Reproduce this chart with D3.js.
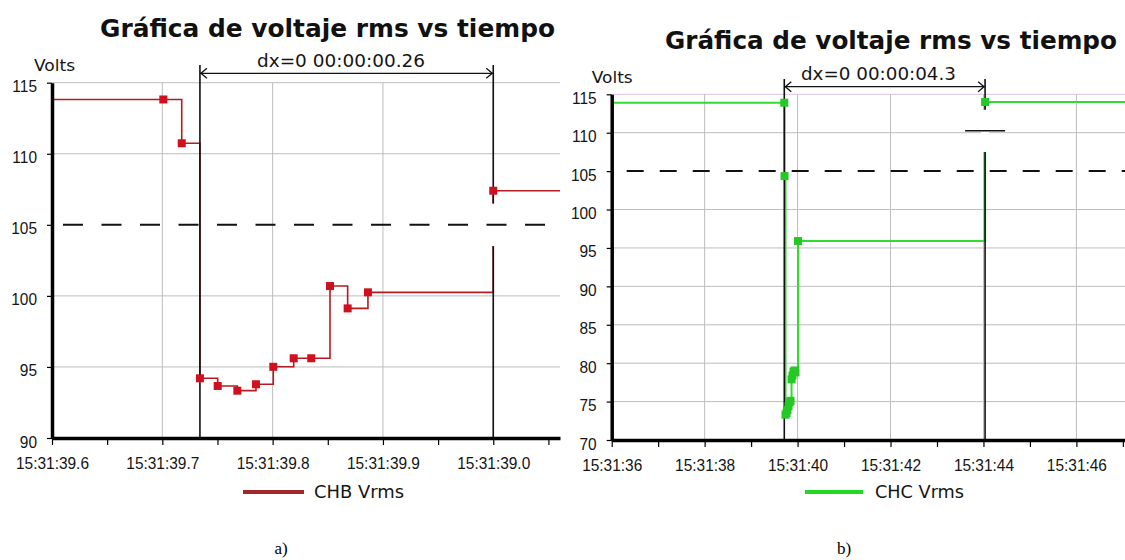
<!DOCTYPE html>
<html><head><meta charset="utf-8">
<script src="https://cdn.jsdelivr.net/npm/d3@7"></script>
<style>
body{margin:0;background:#fff;}
svg{display:block;}
.tk text{font-family:"Liberation Sans Narrow","Arial Narrow","Liberation Sans",sans-serif;font-size:17px;fill:#151515;}
.lbl{font-family:"DejaVu Sans",sans-serif;fill:#151515;}
</style></head><body>
<svg id="c" width="1125" height="560"></svg>
<script>
// ---------- data ----------
const chartTitle = "Gráfica de voltaje rms vs tiempo";
const yAxisLabel = "Volts";

// a) CHB Vrms  (time = seconds after 15:31:39)
const chbTimes  = [0.580, 0.7009, 0.7176, 0.7341, 0.7502, 0.7680, 0.7849, 0.8006, 0.8191, 0.8350, 0.8520, 0.8680, 0.8864, 1.0000, 1.090];
const chbValues = [113.82, 113.82, 110.74, 94.20, 93.66, 93.33, 93.78, 95.01, 95.61, 95.61, 100.69, 99.12, 100.25, 107.40, 107.40];
const aXTicks      = [0.6, 0.65, 0.7, 0.75, 0.8, 0.85, 0.9, 0.95, 1.0, 1.05];
const aXLabelTicks = [0.6, 0.7, 0.8, 0.9, 1.0];
const aXTickLabels = ["15:31:39.6", "15:31:39.7", "15:31:39.8", "15:31:39.9", "15:31:39.0"];
const aYTicks   = [90, 95, 100, 105, 110, 115];
const aThreshold = 105;
const aCursors  = [0.7341, 1.0000];
const aCursorGap = [103.5, 106.5];
const aDxLabel  = "dx=0 00:00:00.26";
const aLegend   = "CHB Vrms";
const aCaption  = "a)";

// b) CHC Vrms  (time = seconds after 15:31:00)
const chcTimes  = [30, 39.714, 39.720, 39.740, 39.762, 39.783, 39.805, 39.826, 39.848, 39.870, 39.891, 39.912, 39.934, 39.955, 40.009, 44.035, 48];
const chcValues = [113.9, 113.9, 104.35, 73.3, 73.5, 73.9, 74.4, 74.9, 75.1, 77.9, 78.4, 78.9, 79.05, 78.8, 95.9, 114.0, 114.0];
const bXTicks      = [36, 37, 38, 39, 40, 41, 42, 43, 44, 45, 46, 47];
const bXLabelTicks = [36, 38, 40, 42, 44, 46];
const bXTickLabels = ["15:31:36", "15:31:38", "15:31:40", "15:31:42", "15:31:44", "15:31:46"];
const bYTicks   = [70, 75, 80, 85, 90, 95, 100, 105, 110, 115];
const bThreshold = 105;
const bCursors  = [39.714, 44.035];
const bCursorGap = [107.5, 113.0];
const bCursorMark = 110.26;
const bDxLabel  = "dx=0 00:00:04.3";
const bLegend   = "CHC Vrms";
const bCaption  = "b)";

// ---------- layout ----------
const panels = [
  {id:'a', times:chbTimes, values:chbValues, xTicks:aXTicks, xLabelTicks:aXLabelTicks, xTickLabels:aXTickLabels,
   yTicks:aYTicks, threshold:aThreshold, cursors:aCursors, gap:aCursorGap, mark:null, dx:aDxLabel, legend:aLegend, caption:aCaption,
   xDomain:[0.6, 1.0605], x0:52, x1:560, yDomain:[90,115], yTop:82.7, yBottom:438,
   lineColor:'#b41c22', markColor:'#d0101e', markSize:8, lineWidth:1.6, legendColor:'#a3262b',
   topGrid:'#bdbdbd', dash:'20,18.5', dashOff:27.5,
   titleX:327.5, titleW:455, titleY:37, voltsX:34, voltsY:71, dxX:341, dxY:67, dxW:168, arrowY:73.3, cursorTop:65,
   legX1:243, legX2:304, legY:492, legTextX:314, legTextW:90, capX:281},
  {id:'b', times:chcTimes, values:chcValues, xTicks:bXTicks, xLabelTicks:bXLabelTicks, xTickLabels:bXTickLabels,
   yTicks:bYTicks, threshold:bThreshold, cursors:bCursors, gap:bCursorGap, mark:bCursorMark, dx:bDxLabel, legend:bLegend, caption:bCaption,
   xDomain:[36, 47.046], x0:611.7, x1:1125, yDomain:[70,115], yTop:94.3, yBottom:440,
   lineColor:'#2fdc2f', markColor:'#25c825', markSize:8, lineWidth:2, legendColor:'#22d822',
   topGrid:'#d8c4e4', dash:'17,16', dashOff:18,
   titleX:891, titleW:452, titleY:49, voltsX:591.7, voltsY:83, dxX:878.5, dxY:80, dxW:155, arrowY:86.7, cursorTop:79,
   legX1:805, legX2:863, legY:492, legTextX:875, legTextW:89, capX:844}
];

const svg = d3.select('#c');

// condense tick-label font to the narrow look of the reference
let narrowFactor = 1;
(function(){
  const t = svg.append('g').attr('class', 'tk').append('text').text('15:31:39.6');
  const w = t.node().getComputedTextLength();
  if (w > 0) narrowFactor = Math.min(1, 73 / w);
  t.node().parentNode.remove();
})();
function condense(sel){
  sel.each(function(){
    const w = this.getComputedTextLength();
    if (w > 0 && narrowFactor < 0.99) d3.select(this).attr('textLength', w * narrowFactor).attr('lengthAdjust', 'spacingAndGlyphs');
  });
}

function drawPanel(p){
  const x = d3.scaleLinear().domain(p.xDomain).range([p.x0, p.x1]);
  const y = d3.scaleLinear().domain(p.yDomain).range([p.yBottom, p.yTop]);
  const g = svg.append('g');
  const clipId = 'clip-' + p.id;
  svg.append('clipPath').attr('id', clipId).append('rect')
    .attr('x', p.x0).attr('y', p.yTop - 6).attr('width', p.x1 - p.x0).attr('height', p.yBottom - p.yTop + 6);

  // horizontal gridlines
  g.selectAll('.hg').data(p.yTicks.filter(v => v !== p.yDomain[0] && v !== p.threshold)).join('line')
    .attr('x1', p.x0).attr('x2', p.x1).attr('y1', d => y(d)).attr('y2', d => y(d))
    .attr('stroke', d => d === p.yDomain[1] ? p.topGrid : '#bdbdbd').attr('stroke-width', 1);
  // vertical gridlines
  g.selectAll('.vg').data(p.xLabelTicks.filter(v => v !== p.xDomain[0])).join('line')
    .attr('x1', d => x(d)).attr('x2', d => x(d)).attr('y1', p.yTop).attr('y2', p.yBottom)
    .attr('stroke', '#bdbdbd').attr('stroke-width', 1);

  // series
  const pts = p.times.map((t, i) => [t, p.values[i]]);
  const line = d3.line().x(d => x(d[0])).y(d => y(d[1])).curve(d3.curveStepAfter);
  g.append('path').attr('d', line(pts)).attr('fill', 'none')
    .attr('stroke', p.lineColor).attr('stroke-width', p.lineWidth).attr('clip-path', `url(#${clipId})`);

  // cursors
  const c1 = x(p.cursors[0]), c2 = x(p.cursors[1]);
  g.append('line').attr('x1', c1).attr('x2', c1).attr('y1', p.cursorTop).attr('y2', p.yBottom)
    .attr('stroke', '#111').attr('stroke-width', 1.6);
  g.append('rect').attr('x', c2 - 4).attr('y', y(p.gap[1])).attr('width', 8).attr('height', y(p.gap[0]) - y(p.gap[1]))
    .attr('fill', '#fff');
  g.append('line').attr('x1', c2).attr('x2', c2).attr('y1', p.cursorTop).attr('y2', y(p.gap[1]))
    .attr('stroke', '#111').attr('stroke-width', 1.6);
  g.append('line').attr('x1', c2).attr('x2', c2).attr('y1', y(p.gap[0])).attr('y2', p.yBottom)
    .attr('stroke', '#111').attr('stroke-width', 1.6);
  if (p.mark !== null) {
    g.append('line').attr('x1', c2 - 20).attr('x2', c2 + 20).attr('y1', y(p.mark)).attr('y2', y(p.mark))
      .attr('stroke', '#111').attr('stroke-width', 1.6);
  }

  // markers
  g.append('g').attr('clip-path', `url(#${clipId})`).selectAll('rect').data(pts).join('rect')
    .attr('x', d => x(d[0]) - p.markSize / 2).attr('y', d => y(d[1]) - p.markSize / 2)
    .attr('width', p.markSize).attr('height', p.markSize).attr('fill', p.markColor);

  // threshold dashed line
  g.append('line').attr('x1', p.x0).attr('x2', p.x1).attr('y1', y(p.threshold)).attr('y2', y(p.threshold))
    .attr('stroke', '#111').attr('stroke-width', 2).attr('stroke-dasharray', p.dash).attr('stroke-dashoffset', p.dashOff);

  // dx arrow
  g.append('line').attr('x1', c1).attr('x2', c2).attr('y1', p.arrowY).attr('y2', p.arrowY).attr('stroke', '#111').attr('stroke-width', 1.3);
  const ah = d3.path();
  ah.moveTo(c1 + 7, p.arrowY - 5); ah.lineTo(c1 + 1, p.arrowY); ah.lineTo(c1 + 7, p.arrowY + 5);
  ah.moveTo(c2 - 7, p.arrowY - 5); ah.lineTo(c2 - 1, p.arrowY); ah.lineTo(c2 - 7, p.arrowY + 5);
  g.append('path').attr('d', ah.toString()).attr('fill', 'none').attr('stroke', '#111').attr('stroke-width', 1.3);
  g.append('text').attr('class', 'lbl').attr('x', p.dxX).attr('y', p.dxY).attr('text-anchor', 'middle')
    .attr('font-size', 17).attr('textLength', p.dxW).attr('lengthAdjust', 'spacingAndGlyphs').text(p.dx);

  // axes
  const yAxis = d3.axisLeft(y).tickValues(p.yTicks).tickSize(5).tickSizeOuter(0).tickPadding(10);
  const ya = g.append('g').attr('class', 'tk').attr('transform', `translate(${p.x0},0)`).call(yAxis);
  ya.select('.domain').attr('stroke', '#000').attr('stroke-width', 3.5);
  ya.selectAll('.tick line').attr('stroke', '#000').attr('stroke-width', 1.2);
  ya.selectAll('.tick text').attr('dy', '0.53em').call(condense);

  const labMap = new Map(p.xLabelTicks.map((v, i) => [v, p.xTickLabels[i]]));
  const xAxis = d3.axisBottom(x).tickValues(p.xTicks).tickSize(7).tickSizeOuter(0).tickPadding(12)
    .tickFormat(d => labMap.has(d) ? labMap.get(d) : '');
  const xa = g.append('g').attr('class', 'tk').attr('transform', `translate(0,${p.yBottom})`).call(xAxis);
  xa.select('.domain').attr('stroke', '#000').attr('stroke-width', 3.5);
  xa.selectAll('.tick line').attr('stroke', '#000').attr('stroke-width', 1.2);
  xa.selectAll('.tick text').call(condense);

  // title and labels
  g.append('text').attr('x', p.titleX).attr('y', p.titleY).attr('text-anchor', 'middle')
    .attr('font-family', '"DejaVu Sans",sans-serif').attr('font-weight', 'bold').attr('font-size', 24).attr('fill', '#111')
    .attr('textLength', p.titleW).attr('lengthAdjust', 'spacingAndGlyphs').text(chartTitle);
  g.append('text').attr('class', 'lbl').attr('x', p.voltsX).attr('y', p.voltsY).attr('font-size', 16)
    .attr('textLength', 41).attr('lengthAdjust', 'spacingAndGlyphs').text(yAxisLabel);

  // legend
  g.append('line').attr('x1', p.legX1).attr('x2', p.legX2).attr('y1', p.legY).attr('y2', p.legY)
    .attr('stroke', p.legendColor).attr('stroke-width', 4);
  g.append('text').attr('class', 'lbl').attr('x', p.legTextX).attr('y', p.legY + 6).attr('font-size', 17)
    .attr('textLength', p.legTextW).attr('lengthAdjust', 'spacingAndGlyphs').text(p.legend);

  // caption
  g.append('text').attr('x', p.capX).attr('y', 554).attr('text-anchor', 'middle')
    .attr('font-family', '"Liberation Serif","Times New Roman",serif').attr('font-size', 17).attr('fill', '#000').text(p.caption);
}
panels.forEach(drawPanel);
</script>
</body></html>
